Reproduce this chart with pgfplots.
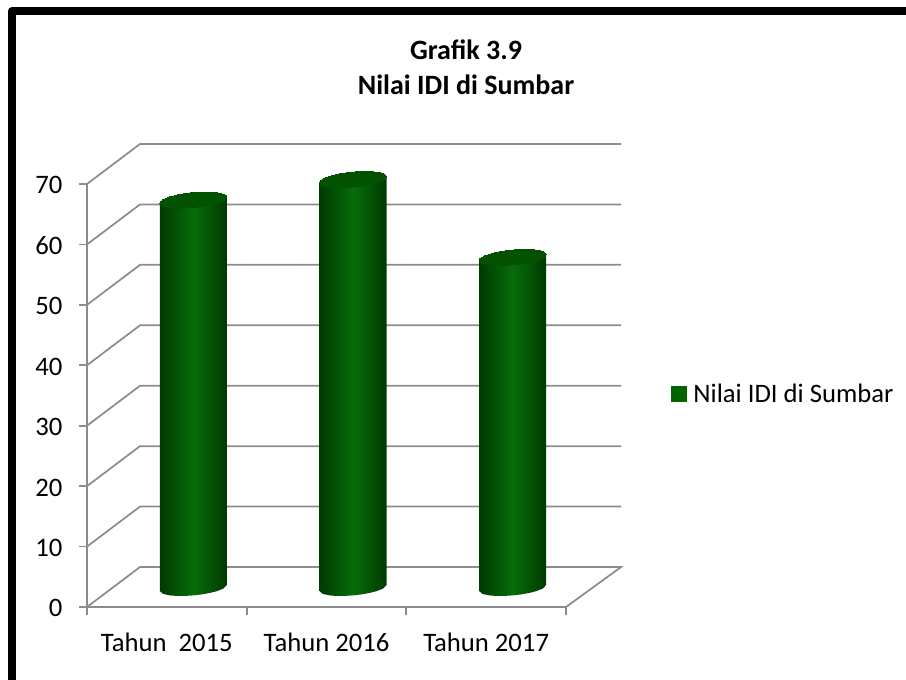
\documentclass[border=0pt]{standalone}
\usepackage{pgfplots}
\usepackage{pgfplotstable}
\usepackage{fontspec}
\setmainfont{Carlito}
\pgfplotsset{compat=1.18}
\definecolor{gridc}{RGB}{140,140,140}
\definecolor{cyledge}{RGB}{0,58,0}
\definecolor{cylmid}{RGB}{6,108,10}
\definecolor{cyltop}{RGB}{2,82,2}
\definecolor{legc}{RGB}{0,100,0}
\pgfplotstableread{
dx top dy
-0.2098 1 -0.496
-0.2098 0 -0.496
-0.1888 0 -0.981
-0.1469 0 -1.222
-0.1049 0 -1.309
-0.0525 0 -1.310
0 0 -1.225
0.0525 0 -1.062
0.1049 0 -0.812
0.1469 0 -0.527
0.1888 0 -0.087
0.2098 0 0.496
0.2098 1 0.496
}\cylshape
\newcommand{\cyl}[2]{\addplot[draw=none,left color=cyledge,right color=cyledge,middle color=cylmid,forget plot]
  table[x expr={#1+\thisrow{dx}},y expr={\thisrow{top}*#2+\thisrow{dy}}]{\cylshape};}
\begin{document}
\begin{tikzpicture}
\useasboundingbox (0pt,0pt) rectangle (679.5pt,509.25pt);
\draw[line width=5.8pt,line join=round,black] (9pt,-2pt) -- (9pt,501pt) -- (681pt,501pt);
% wall, floor and gridlines; the value axis is the front edge
\begin{axis}[
  at={(65.25pt,54pt)},anchor=south west,scale only axis,
  width=359.25pt,height=317.25pt,
  xmin=0,xmax=3,ymin=0,ymax=70,clip=false,
  axis y line=left,axis x line=bottom,
  axis line style={gridc,line width=1.3pt,-},
  major tick style={gridc,line width=1.3pt},
  tick align=outside,major tick length=6pt,
  ytick={0,10,...,70},xtick={0,1,2,3},xticklabels={},
  extra x ticks={0.5,1.5,2.5},
  extra x tick labels={Tahun\ \ 2015,Tahun 2016,Tahun 2017},
  extra x tick style={major tick length=0pt,tick label style={yshift=-16pt}},
  tick label style={font=\fontsize{20}{22}\selectfont},
  y tick label style={xshift=-9pt,yshift=-1pt},
  /pgf/number format/assume math mode=true,
]
\addplot[gridc,line width=1.3pt] coordinates {(0,0)(0.332,6.62)(3.345,6.62)(3,0)};
\addplot[gridc,line width=1.3pt] coordinates {(0,10)(0.332,16.62)(3.345,16.62)};
\addplot[gridc,line width=1.3pt] coordinates {(0,20)(0.332,26.62)(3.345,26.62)};
\addplot[gridc,line width=1.3pt] coordinates {(0,30)(0.332,36.62)(3.345,36.62)};
\addplot[gridc,line width=1.3pt] coordinates {(0,40)(0.332,46.62)(3.345,46.62)};
\addplot[gridc,line width=1.3pt] coordinates {(0,50)(0.332,56.62)(3.345,56.62)};
\addplot[gridc,line width=1.3pt] coordinates {(0,60)(0.332,66.62)(3.345,66.62)};
\addplot[gridc,line width=1.3pt] coordinates {(0,70)(0.332,76.62)(3.345,76.62)};
\end{axis}
% cylinders stand halfway back
\begin{axis}[
  at={(85.125pt,68.25pt)},anchor=south west,scale only axis,
  width=359.25pt,height=317.25pt,
  xmin=0,xmax=3,ymin=0,ymax=70,clip=false,
  axis lines=none,
  legend style={at={(1.1639,0.4586)},anchor=west,draw=none,fill=none,
    font=\fontsize{20}{22}\selectfont,inner sep=0pt,outer sep=0pt},
  legend cell align=left,
]
\cyl{0.5}{64.2}
\cyl{1.5}{67.6}
\cyl{2.5}{54.7}
\addplot[only marks,mark=*,mark size=25.1pt,forget plot,color=cyltop,
  mark options={draw=cyltop,fill=cyltop,line width=0pt,yslant=0.0896,yscale=0.221}]
  coordinates {(0.5,64.2)(1.5,67.6)(2.5,54.7)};
\addlegendimage{legend image code/.code={\fill[legc] (0pt,-5.6pt) rectangle (11.25pt,5.6pt);}}
\addlegendentry{\hspace{3.2pt}Nilai IDI di Sumbar}
\end{axis}
\node[font=\fontsize{21}{26}\selectfont\bfseries,align=center,anchor=center] at (349.5pt,459pt) {Grafik 3.9\\Nilai IDI di Sumbar};
\end{tikzpicture}
\end{document}
